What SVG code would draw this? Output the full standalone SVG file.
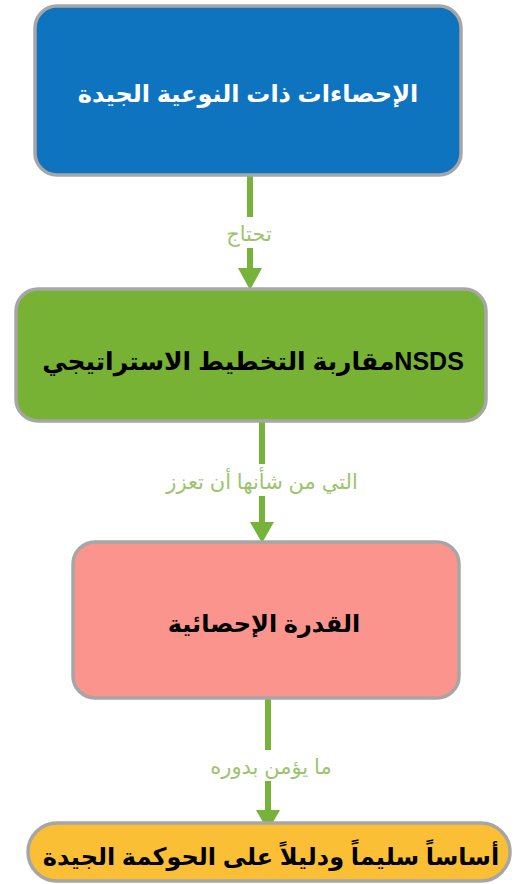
<svg xmlns="http://www.w3.org/2000/svg" width="517" height="884" viewBox="0 0 517 884">
<style>
.box{stroke:#A6A6A6;stroke-width:3.5}
.t{font-family:"Liberation Sans","DejaVu Sans",sans-serif;font-weight:bold;text-anchor:middle;dominant-baseline:central;direction:rtl}
.lbl{font-family:"Liberation Sans","DejaVu Sans",sans-serif;font-size:21px;fill:#9CC46E;text-anchor:middle;dominant-baseline:central;direction:rtl}
.edge{stroke:#77B23A;stroke-width:6;fill:none}
.head{fill:#77B23A}
</style>
<rect width="517" height="884" fill="#ffffff"/>
<g id="connectors">
  <line class="edge" x1="250" y1="176" x2="250" y2="217"/>
  <line class="edge" x1="250" y1="248" x2="250" y2="270"/>
  <polygon class="head" points="238,268 262,268 250,290"/>
  <text class="lbl" x="249" y="233">تحتاج</text>
  <line class="edge" x1="262" y1="422" x2="262" y2="464"/>
  <line class="edge" x1="262" y1="496" x2="262" y2="524"/>
  <polygon class="head" points="250,522 274,522 262,543"/>
  <text class="lbl" x="262" y="481">التي من شأنها أن تعزز</text>
  <line class="edge" x1="268" y1="699" x2="268" y2="750"/>
  <line class="edge" x1="268" y1="781" x2="268" y2="812"/>
  <polygon class="head" points="256,810 280,810 268,831"/>
  <text class="lbl" x="271" y="766">ما يؤمن بدوره</text>
</g>
<g id="node1">
  <rect class="box" x="35" y="6" width="426" height="169" rx="22" fill="#0E74BF"/>
  <text class="t" x="248" y="93" font-size="24" fill="#ffffff">الإحصاءات ذات النوعية الجيدة</text>
</g>
<g id="node2">
  <rect class="box" x="16" y="289" width="470" height="132" rx="22" fill="#78B234"/>
  <text class="t" x="253" y="361" font-size="25" fill="#000000">NSDSمقاربة التخطيط الاستراتيجي</text>
</g>
<g id="node3">
  <rect class="box" x="73" y="542" width="386" height="156" rx="22" fill="#FA948C"/>
  <text class="t" x="264" y="623" font-size="24" fill="#000000">القدرة الإحصائية</text>
</g>
<g id="node4">
  <rect class="box" x="28" y="823" width="482" height="58" rx="29" fill="#FBBF35"/>
  <text class="t" x="271" y="856" font-size="24" fill="#000000">أساساً سليماً ودليلاً على الحوكمة الجيدة</text>
</g>
</svg>
